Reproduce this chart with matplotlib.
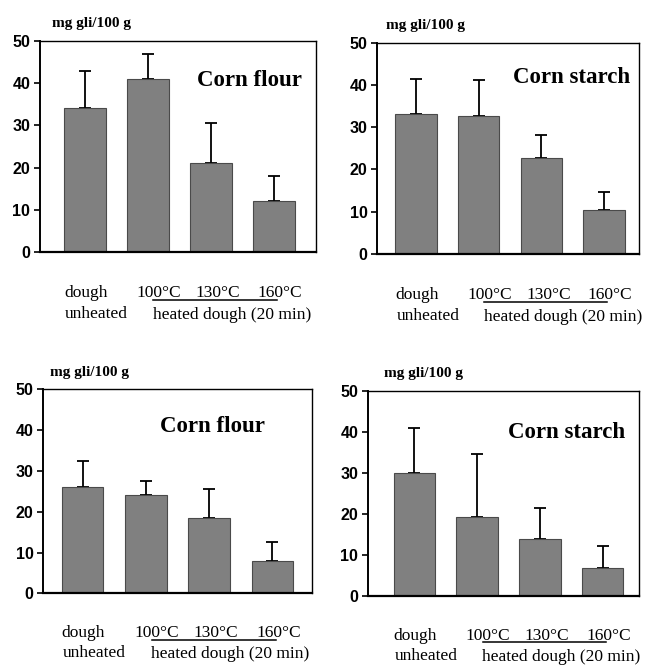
import matplotlib
matplotlib.use("Agg")
import matplotlib.pyplot as plt

categories = ["dough\nunheated", "100°C", "130°C", "160°C"]
group_label = "heated dough (20 min)"
unit_label = "mg gli/100 g"
y_ticks = [0, 10, 20, 30, 40, 50]

titles = ["Corn flour", "Corn starch", "Corn flour", "Corn starch"]

flour_top = [34.2, 40.9, 21.2, 12.2]
flour_top_err = [8.7, 6.0, 9.3, 5.9]
starch_top = [33.1, 32.7, 22.6, 10.4]
starch_top_err = [8.2, 8.5, 5.6, 4.3]
flour_bottom = [26.1, 24.1, 18.5, 7.9]
flour_bottom_err = [6.4, 3.5, 7.0, 4.7]
starch_bottom = [29.9, 19.3, 13.8, 6.7]
starch_bottom_err = [11.1, 15.3, 7.7, 5.4]

values = [flour_top, starch_top, flour_bottom, starch_bottom]
errors = [flour_top_err, starch_top_err, flour_bottom_err, starch_bottom_err]

rects = [
    [0.0617, 0.6222, 0.4260, 0.3163],
    [0.5823, 0.6192, 0.4039, 0.3168],
    [0.0668, 0.1105, 0.4142, 0.3058],
    [0.5679, 0.1069, 0.4182, 0.3073],
]
xlims = [(-0.71, 3.67), (-0.62, 3.56), (-0.62, 3.62), (-0.74, 3.58)]
title_pos = [(0.76, 0.815), (0.742, 0.834), (0.63, 0.82), (0.734, 0.795)]
unit_x = [0.042, 0.032, 0.025, 0.059]
temp_shift = [0.17, 0.11, 0.1]

serif = ["Liberation Serif", "DejaVu Serif"]
sans = ["Liberation Sans", "DejaVu Sans"]

fig = plt.figure(figsize=(6.48, 6.67), dpi=100)

for i in range(4):
    ax = fig.add_axes(rects[i])
    x = list(range(len(categories)))
    ax.bar(x, values[i], width=0.66, color="#808080", edgecolor="#4a4a4a",
           linewidth=0.8, zorder=2)
    ax.errorbar(x, values[i], yerr=[[0] * 4, errors[i]], fmt="none",
                ecolor="black", elinewidth=1.3, capsize=4, capthick=1.3, zorder=1)
    ax.set_xlim(*xlims[i])
    ax.set_ylim(0, 50)
    ax.set_yticks(y_ticks)
    ax.set_yticklabels([str(t) for t in y_ticks], family=sans,
                       fontweight="bold", fontsize=11.5)
    ax.set_xticks([])
    ax.tick_params(axis="y", length=4, width=1.2, pad=3)
    for s in ax.spines.values():
        s.set_linewidth(1.0)
    ax.spines["left"].set_linewidth(1.4)
    ax.spines["bottom"].set_linewidth(1.6)

    ax.text(*title_pos[i], titles[i], transform=ax.transAxes, ha="center",
            va="center", family=serif, fontweight="bold", fontsize=16.5)
    ax.text(unit_x[i], 1.083, unit_label, transform=ax.transAxes, ha="left",
            va="center", family=serif, fontweight="bold", fontsize=11)

    # category labels under the axis
    tr = ax.get_xaxis_transform()
    ax.text(-0.33, -0.195, "dough", transform=tr, ha="left", va="center",
            family=serif, fontsize=12.5)
    ax.text(-0.31, -0.295, "unheated", transform=tr, ha="left", va="center",
            family=serif, fontsize=12.5)
    for j in range(1, 4):
        ax.text(j + temp_shift[j - 1], -0.195, categories[j], transform=tr,
                ha="center", va="center", family=serif, fontsize=12.5)
    ax.plot([1.09, 3.05], [-0.228, -0.228], transform=tr, color="black",
            linewidth=1.1, clip_on=False)
    ax.text(1.08, -0.3, group_label, transform=tr, ha="left", va="center",
            family=serif, fontsize=12.5)

fig.savefig("out.png", dpi=100)
